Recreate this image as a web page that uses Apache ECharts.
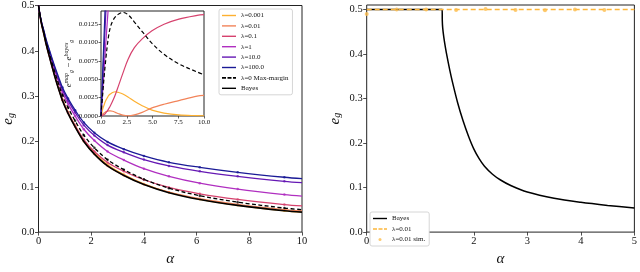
<!DOCTYPE html>
<html><head><meta charset="utf-8">
<script src="https://cdn.jsdelivr.net/npm/echarts@6/dist/echarts.min.js"></script>
<style>html,body{margin:0;padding:0;background:#fff}#c{width:640px;height:272px}</style>
</head><body><div id="c"></div>
<script>
// ---- data (left main panel) ----
const alphaMain = [0,0.05,0.12,0.2,0.3,0.4,0.5,0.62,0.75,0.91,1.12,1.39,1.72,2.12,2.62,3.24,4.0,4.95,6.12,7.56,9.33,10];
const egBayes  = [0.5,0.48,0.458,0.438,0.412,0.39,0.368,0.343,0.318,0.29,0.262,0.232,0.2,0.172,0.146,0.125,0.105,0.087,0.072,0.059,0.047,0.044];
const egL0001  = [0.5,0.4803,0.4587,0.4391,0.4135,0.3919,0.3702,0.3455,0.3208,0.293,0.2652,0.2353,0.2032,0.175,0.1486,0.127,0.1064,0.0878,0.0724,0.0592,0.047,0.044];
const egL001   = [0.5,0.4801,0.4582,0.4383,0.4124,0.3905,0.3686,0.3437,0.3187,0.2907,0.2627,0.2325,0.2003,0.1721,0.146,0.1252,0.1055,0.0881,0.0736,0.0611,0.0497,0.0468];
const egL01    = [0.5,0.48,0.458,0.4381,0.4122,0.3903,0.3685,0.3437,0.319,0.2914,0.264,0.2349,0.2042,0.1778,0.1537,0.1343,0.1155,0.0986,0.0845,0.0722,0.0607,0.0578];
const egL1     = [0.5,0.481,0.4605,0.4422,0.4183,0.3985,0.3786,0.356,0.3335,0.308,0.283,0.256,0.227,0.202,0.178,0.159,0.14,0.123,0.108,0.095,0.0828,0.0795];
const egL10    = [0.5,0.4815,0.4616,0.444,0.421,0.402,0.383,0.3612,0.339,0.314,0.29,0.264,0.236,0.213,0.192,0.176,0.16,0.146,0.134,0.123,0.112,0.109];
const egL100   = [0.5,0.4818,0.4624,0.4454,0.423,0.4047,0.386,0.365,0.344,0.319,0.295,0.269,0.242,0.219,0.199,0.183,0.168,0.154,0.143,0.132,0.121,0.118];
const egMaxM   = [0.5,0.481,0.4602,0.4416,0.4173,0.3968,0.3762,0.3527,0.329,0.3021,0.2749,0.2455,0.2139,0.1861,0.1598,0.1378,0.1165,0.0969,0.0804,0.0661,0.053,0.0496];
// ---- inset: e_g^map - e_g^bayes ----
const dL0001 = [0,0.0003,0.0007,0.0011,0.0015,0.0019,0.0022,0.0025,0.0028,0.003,0.0032,0.0033,0.0032,0.003,0.0026,0.002,0.0014,0.0008,0.0004,0.00015,0.00005,0.00003];
const dL001  = [0,0.0001,0.0002,0.0003,0.0004,0.0005,0.0006,0.00065,0.0007,0.0007,0.00065,0.0005,0.0003,0.00012,0.00003,0.00015,0.0005,0.0011,0.0016,0.0021,0.0027,0.0028];
const dL01   = [0,0,0.00003,0.0001,0.0002,0.0003,0.0005,0.0007,0.001,0.0014,0.002,0.0029,0.0042,0.0058,0.0077,0.0093,0.0105,0.0116,0.0125,0.0132,0.0137,0.0138];
const dL1    = [0,0.001,0.0025,0.0042,0.0063,0.0085,0.0106,0.013,0.0155,0.018,0.021,0.024,0.027,0.03,0.032,0.034,0.035,0.036,0.036,0.036,0.0358,0.0355];
const dL10   = [0,0.0015,0.0036,0.006,0.009,0.012,0.015,0.0182,0.021,0.024,0.028,0.032,0.036,0.041,0.046,0.051,0.055,0.059,0.062,0.064,0.065,0.065];
const dL100  = [0,0.0018,0.0044,0.0074,0.011,0.0147,0.018,0.022,0.026,0.029,0.033,0.037,0.042,0.047,0.053,0.058,0.063,0.067,0.071,0.073,0.074,0.074];
const dMaxM  = [0,0.001,0.0022,0.0036,0.0053,0.0068,0.0082,0.0097,0.011,0.0121,0.0129,0.0135,0.0139,0.0141,0.0138,0.0128,0.0115,0.0099,0.0084,0.0071,0.006,0.0056];
// ---- right panel ----
const alphaRB = [0,1.41,1.412,1.42,1.44,1.47,1.5,1.55,1.6,1.7,1.8,1.9,2.0,2.1,2.2,2.35,2.5,2.7,3.0,3.5,4.0,4.5,5.0];
const egRBayes = [0.5,0.5,0.475,0.458,0.438,0.415,0.395,0.365,0.338,0.29,0.25,0.216,0.187,0.165,0.148,0.13,0.117,0.104,0.09,0.076,0.067,0.06,0.054];
const alphaRL = [0,5];
const egRL = [0.5,0.5];
const alphaRSim = [0,0.56,1.11,1.67,2.22,2.78,3.33,3.89,4.44];
const egRSim = [0.49,0.5,0.5,0.499,0.501,0.499,0.498,0.5,0.499];
const labels = ['λ=0.001','λ=0.01','λ=0.1','λ=1','λ=10.0','λ=100.0','λ=0 Max-margin','Bayes'];

const colors = ['#fdb030','#f2845a','#d6426e','#b02fc0','#6518b4','#1a1a96','#000','#000'];
const mainVals = [egL0001,egL001,egL01,egL1,egL10,egL100,egMaxM,egBayes];
const diffVals = [dL0001,dL001,dL01,dL1,dL10,dL100,dMaxM];

const FONT = 'Liberation Serif';
const pairs = (xs, ys) => xs.map((x,i)=>[x, ys[i]]);

const series = [];
mainVals.forEach((v,k)=>{
  series.push({name: labels[k], type:'line', xAxisIndex:0, yAxisIndex:0, data: pairs(alphaMain, v),
    symbol:'none', smooth:0.35, color: colors[k],
    lineStyle:{width: k===7?1.6:1.3, type: k===6?[4,2.5]:'solid', color: colors[k]}, z: 2+k, animation:false});
  if (k < 7) {
    series.push({type:'scatter', xAxisIndex:0, yAxisIndex:0, data: pairs(alphaMain, v).slice(9,-1),
      symbol:'circle', symbolSize:2.5, itemStyle:{color: colors[k]}, z: 2+k, animation:false, silent:true});
  }
});
diffVals.forEach((v,k)=>{
  series.push({type:'line', xAxisIndex:1, yAxisIndex:1, data: pairs(alphaMain, v),
    symbol:'none', smooth:0.35, clip:true, color: colors[k],
    lineStyle:{width:1.2, type: k===6?[4,2.5]:'solid', color: colors[k]}, z: 20+k, animation:false});
});
series.push({name:'Bayes ', type:'line', xAxisIndex:2, yAxisIndex:2, data: pairs(alphaRB, egRBayes),
  symbol:'none', smooth:0.3, color:'#000', lineStyle:{width:1.5,color:'#000'}, z:3, animation:false});
series.push({name:'λ=0.01 ', type:'line', xAxisIndex:2, yAxisIndex:2, data: pairs(alphaRL, egRL),
  symbol:'none', color:'#fdb63a', lineStyle:{width:1.5,color:'#fdb63a',type:[5,3]}, z:4, animation:false});
series.push({name:'λ=0.01 sim.', type:'scatter', xAxisIndex:2, yAxisIndex:2, data: pairs(alphaRSim, egRSim),
  symbol:'circle', symbolSize:4, itemStyle:{color:'#fdbd4c'}, z:5, animation:false});

const SOLID = 'path://M0,0M14,6M0,2.3h14v1.4h-14z';
const DASH  = 'path://M0,0M14,6M0,2.2h4v1.6h-4zM5.5,2.2h4v1.6h-4zM11,2.2h3v1.6h-3z';
const DOT   = 'path://M0,0M14,6M8.5,3a1.5,1.5 0 1,1 -3,0a1.5,1.5 0 1,1 3,0z';

const axisCommon = {
  axisLine:{show:false}, splitLine:{show:false},
  axisTick:{show:true, length:3.5, lineStyle:{color:'#222', width:0.8}},
};
const egName = {
  name:'{e|e}{g|g}', nameLocation:'middle', nameRotate:90,
  nameTextStyle:{rich:{e:{fontFamily:FONT, fontStyle:'italic', fontSize:15, color:'#111'},
                        g:{fontFamily:FONT, fontStyle:'italic', fontSize:10, color:'#111', verticalAlign:'bottom', padding:[6,0,0,0]}}}
};

const chart = echarts.init(document.getElementById('c'), null, {renderer:'canvas'});
chart.setOption({
  animation:false,
  backgroundColor:'#fff',
  grid:[
    {left:32, top:5, width:270, height:241, show:true, borderColor:'#222', borderWidth:1, backgroundColor:'transparent'},
    {left:101, top:11, width:103, height:105, show:true, borderColor:'#222', borderWidth:1, backgroundColor:'#fff', z:10},
    {left:366.7, top:5, width:270, height:241, show:true, borderColor:'#222', borderWidth:1, backgroundColor:'transparent'}
  ],
  xAxis:[
    Object.assign({gridIndex:0, type:'value', min:0, max:10, interval:2,
      axisLabel:{fontFamily:FONT, fontSize:10.5, color:'#111', margin:4},
      name:'α', nameLocation:'middle', nameGap:17, nameTextStyle:{fontFamily:FONT, fontStyle:'italic', fontSize:15, color:'#111'}}, axisCommon),
    Object.assign({gridIndex:1, type:'value', min:0, max:10, interval:2.5, z:12,
      axisLabel:{fontFamily:FONT, fontSize:7, color:'#111', margin:3, formatter:v=>v.toFixed(1)}}, axisCommon, {axisTick:{show:true,length:2.5,lineStyle:{color:'#222',width:0.7}}}),
    Object.assign({gridIndex:2, type:'value', min:0, max:5, interval:1,
      axisLabel:{fontFamily:FONT, fontSize:10.5, color:'#111', margin:4},
      name:'α', nameLocation:'middle', nameGap:17, nameTextStyle:{fontFamily:FONT, fontStyle:'italic', fontSize:15, color:'#111'}}, axisCommon)
  ],
  yAxis:[
    Object.assign({gridIndex:0, type:'value', min:0, max:0.5, interval:0.1,
      axisLabel:{fontFamily:FONT, fontSize:10.5, color:'#111', margin:4, formatter:v=>v.toFixed(1)}, nameGap:22}, axisCommon, egName),
    Object.assign({gridIndex:1, type:'value', min:0, max:0.0143, interval:0.0025, z:12,
      axisLabel:{fontFamily:FONT, fontSize:7, color:'#111', margin:3, formatter:v=>v.toFixed(4), showMaxLabel:false},
      name:'{e|e}{s|map}{g|g}{m| − }{e|e}{s|bayes}{g|g}', nameLocation:'middle', nameRotate:90, nameGap:27,
      nameTextStyle:{rich:{e:{fontFamily:FONT,fontStyle:'italic',fontSize:9,color:'#111'},
        s:{fontFamily:FONT,fontStyle:'italic',fontSize:6,color:'#111',verticalAlign:'top',padding:[0,0,5,0]},
        g:{fontFamily:FONT,fontStyle:'italic',fontSize:6,color:'#111',verticalAlign:'bottom',padding:[4,0,0,0]},
        m:{fontFamily:FONT,fontSize:9,color:'#111'}}}}, axisCommon, {axisTick:{show:true,length:2.5,lineStyle:{color:'#222',width:0.7}}}),
    Object.assign({gridIndex:2, type:'value', min:0, max:0.51, interval:0.1,
      axisLabel:{fontFamily:FONT, fontSize:10.5, color:'#111', margin:4, showMaxLabel:false, formatter:v=>v.toFixed(1)}, nameGap:24}, axisCommon, egName)
  ],
  legend:[
    {data: labels.map((n,i)=>({name:n, icon: i===6?DASH:SOLID})), orient:'vertical', left:219, top:9, itemWidth:14, itemHeight:6, itemGap:3.4,
      padding:[3,4,3,3], backgroundColor:'#fff', borderColor:'#ccc', borderWidth:0.8, borderRadius:2,
      textStyle:{fontFamily:FONT, fontSize:7, color:'#111'}, z:30},
    {data:[{name:'Bayes ', icon:SOLID},{name:'λ=0.01 ', icon:DASH},{name:'λ=0.01 sim.', icon:DOT}], orient:'vertical', left:370, top:212, itemWidth:14, itemHeight:6, itemGap:3.5,
      padding:[3,4,3,3], backgroundColor:'#fff', borderColor:'#ccc', borderWidth:0.8, borderRadius:2,
      formatter: n => n.trim(),
      textStyle:{fontFamily:FONT, fontSize:7, color:'#111'}, z:30}
  ],
  series: series
});
</script></body></html>
